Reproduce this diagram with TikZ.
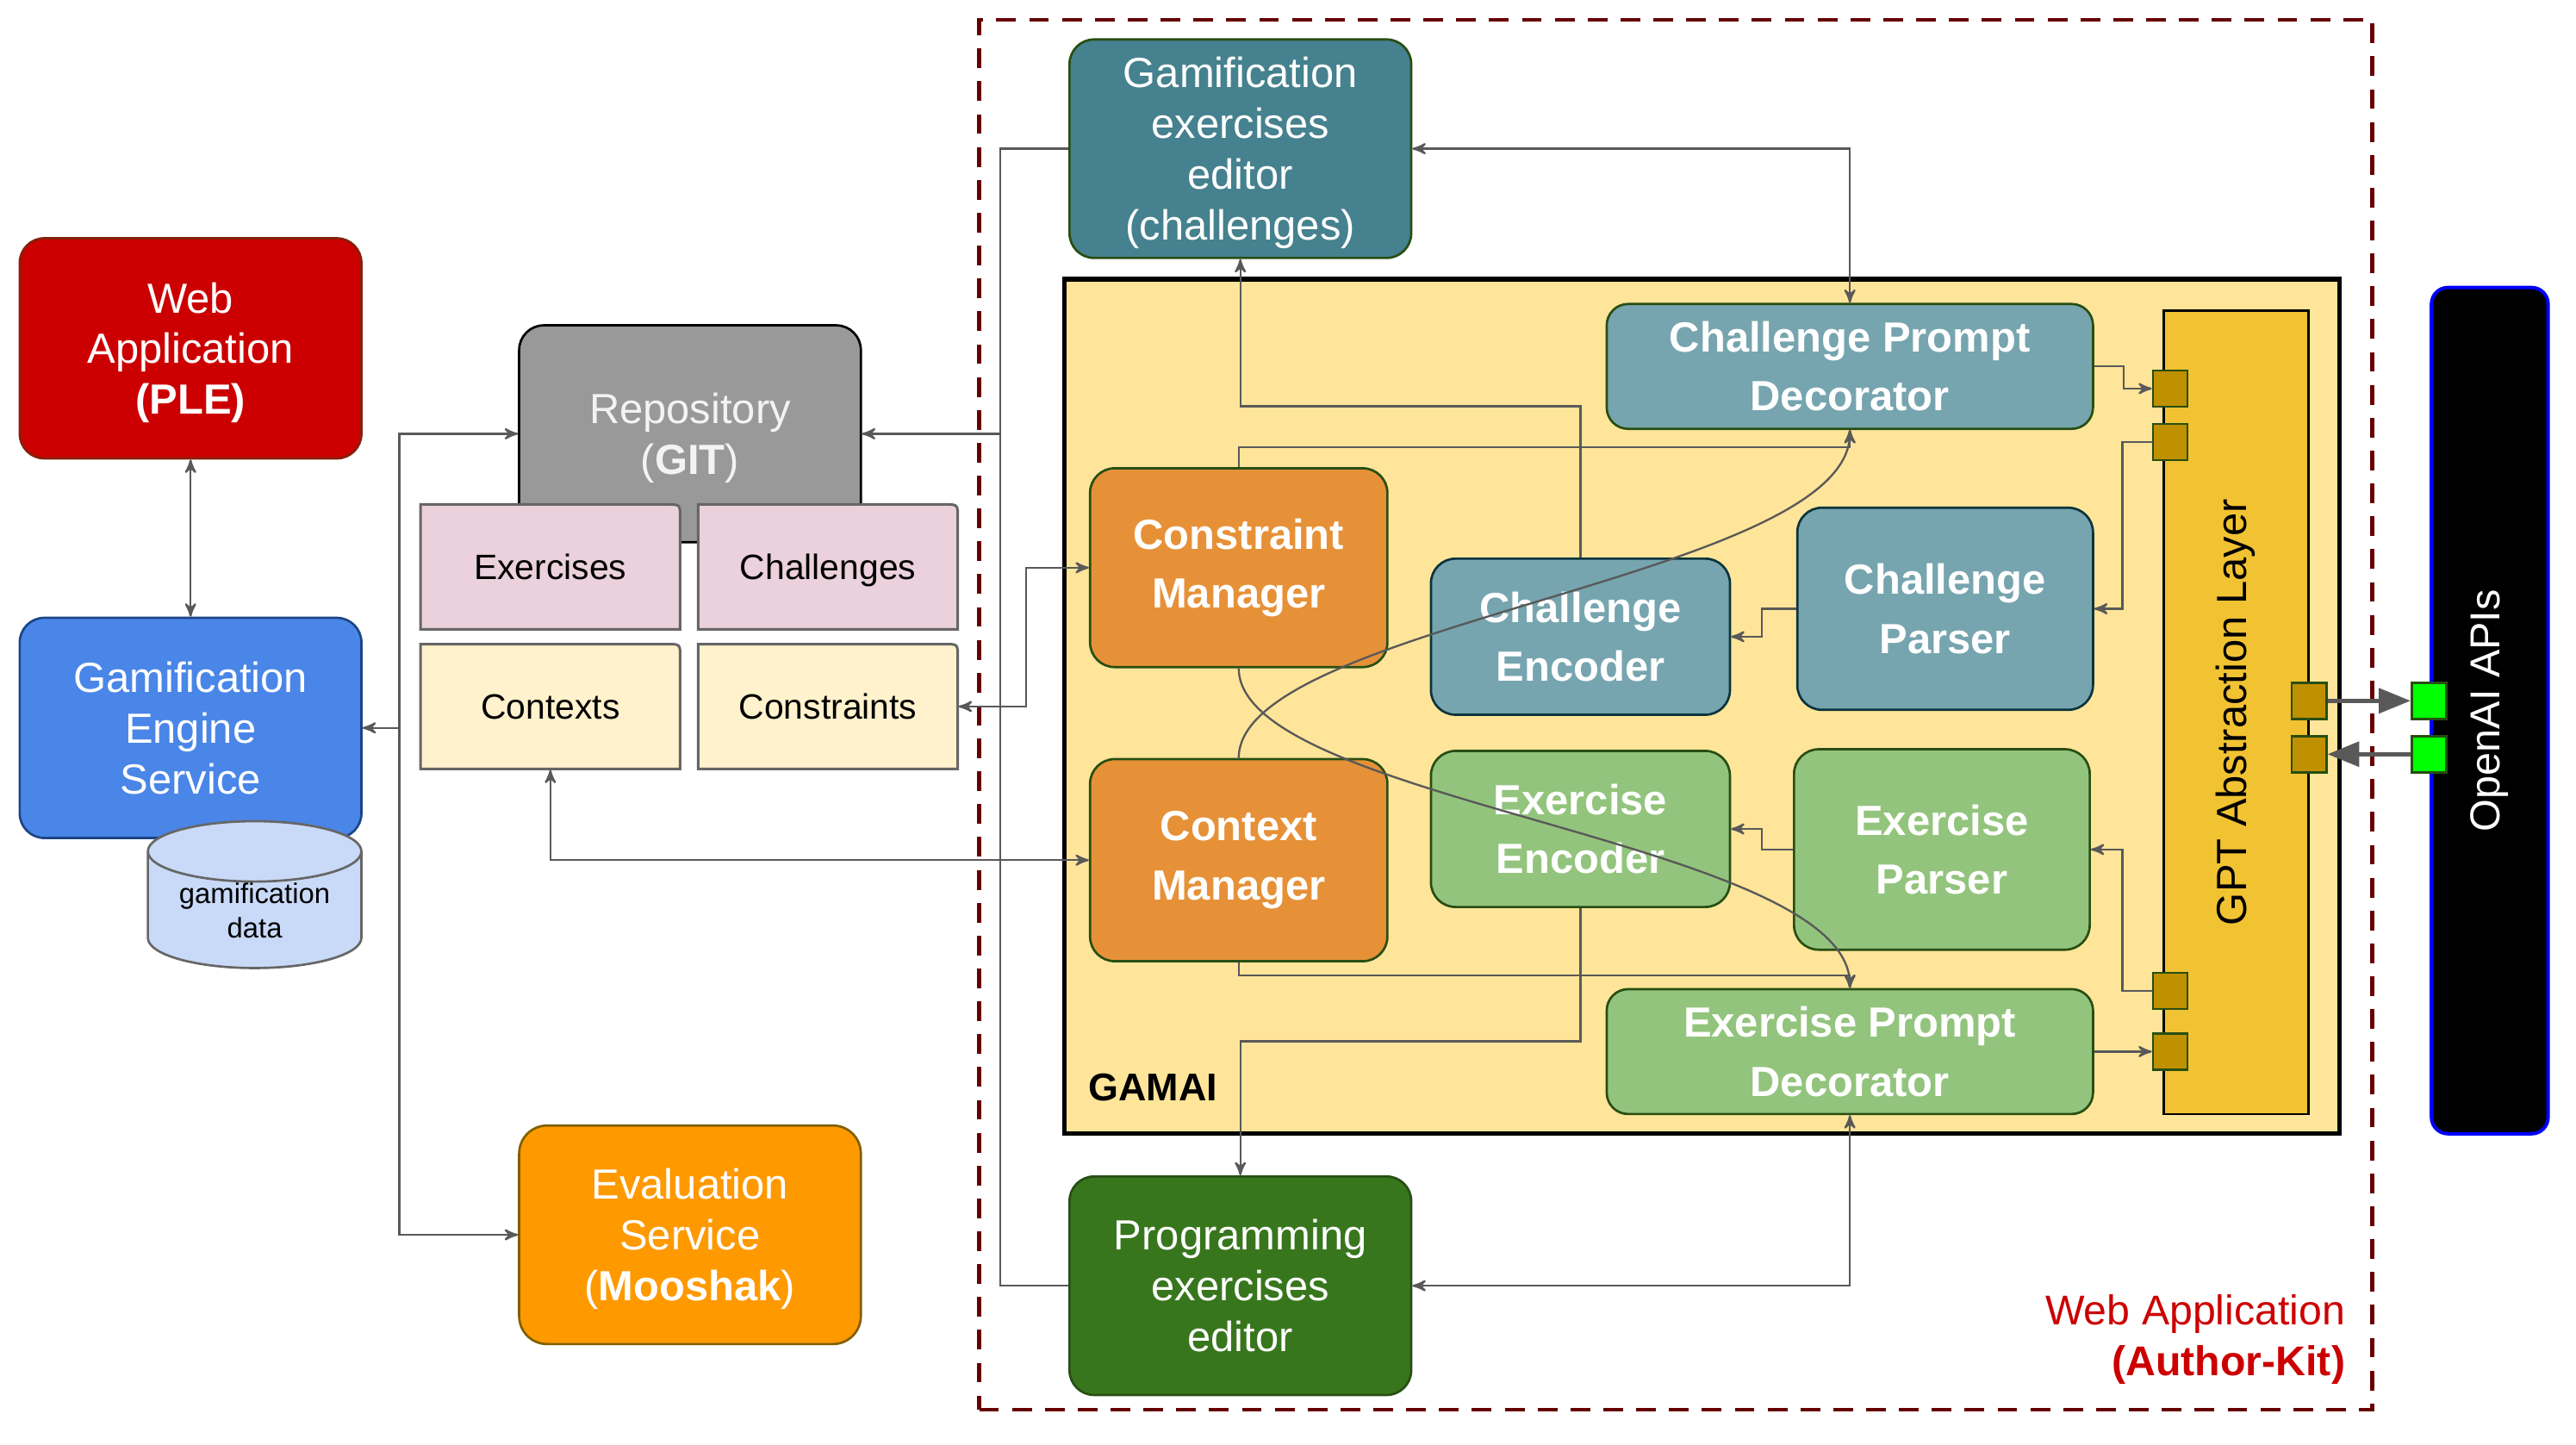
\documentclass[tikz,border=0pt]{standalone}
\usepackage{fontspec}
\setmainfont{Liberation Sans}
\usepackage{tikz}
\usetikzlibrary{arrows,arrows.meta,shapes.geometric}

\definecolor{linegray}{HTML}{595959}
\definecolor{pleRed}{HTML}{CC0000}
\definecolor{pleBorder}{HTML}{85200C}
\definecolor{engineBlue}{HTML}{4A86E8}
\definecolor{engineBorder}{HTML}{1C4587}
\definecolor{dataBlue}{HTML}{C9DAF8}
\definecolor{repoGray}{HTML}{999999}
\definecolor{repoText}{HTML}{F3F3F3}
\definecolor{tabPink}{HTML}{EAD1DC}
\definecolor{tabCream}{HTML}{FFF2CC}
\definecolor{tabBorder}{HTML}{666666}
\definecolor{evalOrange}{HTML}{FF9900}
\definecolor{evalBorder}{HTML}{7F6000}
\definecolor{editorTeal}{HTML}{45818E}
\definecolor{chalTeal}{HTML}{76A5AF}
\definecolor{chalBorder}{HTML}{0C343D}
\definecolor{exerGreen}{HTML}{93C47D}
\definecolor{mgrOrange}{HTML}{E69138}
\definecolor{progGreen}{HTML}{38761D}
\definecolor{darkGreen}{HTML}{274E13}
\definecolor{gamaiYellow}{HTML}{FFE599}
\definecolor{gptGold}{HTML}{F1C232}
\definecolor{portGold}{HTML}{BF9000}
\definecolor{apiGreen}{HTML}{00FF00}
\definecolor{frameRed}{HTML}{660000}
\definecolor{labelRed}{HTML}{CC0000}

\tikzset{dims/.style 2 args={minimum width=#1*0.02cm, minimum height=#2*0.02cm}}

\newcommand{\tabcard}[5]{%
  \filldraw[tab line, fill=#4] ({#2-79},{#3+38}) -- ({#2-79},{#3-38}) -- ({#2+71},{#3-38})
    .. controls ({#2+79},{#3-38}) .. ({#2+79},{#3-30}) -- ({#2+79},{#3+38}) -- cycle;
  \node[tab text, dims={158}{76}] (#1) at (#2,#3) {#5};}

\begin{document}
\begin{tikzpicture}[x=0.02cm,y=-0.02cm,>=stealth',semithick]
  \tikzstyle{box} = [rectangle, rounded corners=0.3cm, inner sep=0pt, align=center,
    text=white, line width=0.8pt, font=\fontsize{14.6}{17.6}\selectfont, text depth=-1.5pt]
  \tikzstyle{bold box} = [rectangle, rounded corners=0.3cm, inner sep=0pt, align=center,
    text=white, line width=0.8pt, font=\fontsize{14.6}{20.4}\selectfont\bfseries]
  \tikzstyle{tab line} = [draw=tabBorder, line width=0.9pt]
  \tikzstyle{tab text} = [inner sep=0pt, text height=8.6pt, text depth=0pt,
    font=\fontsize{12.2}{14}\selectfont]
  \tikzstyle{port} = [rectangle, draw=darkGreen, line width=0.8pt, inner sep=0pt, dims={21}{22}]
  \tikzstyle{link} = [draw=linegray, line width=0.7pt]
  \tikzstyle{api link} = [draw=linegray, line width=1.5pt, -{Triangle[length=11pt,width=8.5pt]}]
  \tikzstyle{frame} = [draw=frameRed, line width=1.3pt, dash pattern=on 0.24cm off 0.16cm]

  \path[use as bounding box] (0,0) rectangle (1568,879);

  \node[frame, inner sep=0pt, dims={848}{846}] (AuthorKit) at (1020,435) {};

  \node[box, dims={208}{134}, fill=pleRed, draw=pleBorder] (PLE) at (116,212)
       {Web\\Application\\\textbf{(PLE)}};
  \node[box, dims={208}{134}, fill=engineBlue, draw=engineBorder] (Engine) at (116,443)
       {Gamification\\Engine\\Service};
  \node[cylinder, shape border rotate=90, aspect=0.4, draw=tabBorder, line width=0.8pt,
        fill=dataBlue, minimum width=2.6cm, minimum height=1.76cm, inner sep=0pt,
        align=center, font=\fontsize{9.8}{11.9}\selectfont] (Data) at (155,554)
       {gamification\\data};

  \node[box, dims={208}{132}, fill=repoGray, draw=black, text=repoText] (Repo) at (420,264)
       {Repository\\(\textbf{GIT})};
  \tabcard{Exercises}{335}{345}{tabPink}{Exercises}
  \tabcard{Challenges}{504}{345}{tabPink}{Challenges}
  \tabcard{Contexts}{335}{430}{tabCream}{Contexts}
  \tabcard{Constraints}{504}{430}{tabCream}{Constraints}

  \node[box, rounded corners=0.34cm, dims={208}{133}, fill=evalOrange, draw=evalBorder]
       (Eval) at (420,751.5) {Evaluation\\Service\\(\textbf{Mooshak})};

  \node[box, dims={208}{133}, fill=editorTeal, draw=darkGreen] (GEditor) at (755,90.5)
       {Gamification\\exercises\\editor\\(challenges)};
  \node[box, dims={208}{133}, fill=progGreen, draw=darkGreen] (PEditor) at (755,782.5)
       {Programming\\exercises\\editor};

  \node[draw=black, line width=1.6pt, fill=gamaiYellow, inner sep=0pt, dims={776}{520}]
       (GAMAI) at (1036,430) {};
  \node[anchor=west, inner sep=0pt, font=\fontsize{13.4}{16}\selectfont\bfseries]
       (GamaiLabel) at (662,662) {GAMAI};

  \node[draw=black, line width=0.8pt, fill=gptGold, rotate=90, inner sep=0pt,
        dims={489}{88}, font=\fontsize{14.6}{17.6}\selectfont] (GPT) at (1361,433.5)
       {GPT Abstraction Layer};

  \node[bold box, rounded corners=0.26cm, dims={296}{76}, fill=chalTeal, draw=darkGreen]
       (ChalPrompt) at (1126,223) {Challenge Prompt\\Decorator};
  \node[bold box, dims={181}{121}, fill=mgrOrange, draw=darkGreen] (ConsMgr) at (754,345.5)
       {Constraint\\Manager};
  \node[bold box, dims={181}{123}, fill=mgrOrange, draw=darkGreen] (CtxMgr) at (754,523.5)
       {Context\\Manager};
  \node[bold box, dims={182}{95}, fill=chalTeal, draw=chalBorder] (ChalEnc) at (962,387.5)
       {Challenge\\Encoder};
  \node[bold box, dims={180}{123}, fill=chalTeal, draw=chalBorder] (ChalParse) at (1184,370.5)
       {Challenge\\Parser};
  \node[bold box, dims={182}{95}, fill=exerGreen, draw=darkGreen] (ExerEnc) at (962,504.5)
       {Exercise\\Encoder};
  \node[bold box, dims={180}{122}, fill=exerGreen, draw=darkGreen] (ExerParse) at (1182,517)
       {Exercise\\Parser};
  \node[bold box, rounded corners=0.26cm, dims={296}{76}, fill=exerGreen, draw=darkGreen]
       (ExerPrompt) at (1126,640) {Exercise Prompt\\Decorator};

  \node[port, fill=portGold] (P1) at (1321,236.5) {};
  \node[port, fill=portGold] (P2) at (1321,269) {};
  \node[port, fill=portGold] (P3) at (1321,603) {};
  \node[port, fill=portGold] (P4) at (1321,640) {};
  \node[port, fill=portGold] (Q1) at (1405.5,426.5) {};
  \node[port, fill=portGold] (Q2) at (1405.5,459) {};

  \node[draw=blue, line width=1.2pt, fill=black, rounded corners=0.2cm, rotate=90,
        inner sep=0pt, dims={515}{71}, text=white, font=\fontsize{14.5}{17.6}\selectfont]
       (OpenAI) at (1515.5,432.5) {OpenAI APIs};
  \node[port, fill=apiGreen] (G1) at (1478.5,426.5) {};
  \node[port, fill=apiGreen] (G2) at (1478.5,459) {};

  \node[anchor=east, align=right, inner sep=0pt, text=labelRed,
        font=\fontsize{14.4}{17.6}\selectfont] (AuthorKitLabel) at (1428,815)
       {Web Application\\\textbf{(Author-Kit)}};

  \coordinate (LeftBus) at (243,443);
  \coordinate (RightBus) at (609,264);

  \draw[link,<->] (PLE) -- (Engine);
  \draw[link,->] (LeftBus) -- (Engine.east);
  \draw[link,->] (LeftBus) |- (Repo.west);
  \draw[link,->] (LeftBus) |- (Eval.west);

  \draw[link,->] (RightBus) -- (Repo.east);
  \draw[link] (GEditor.west) -| (RightBus);
  \draw[link] (PEditor.west) -| (RightBus);

  \draw[link,<->] (Constraints.east) -- ++(41,0) |- (ConsMgr.west);
  \draw[link,<->] (Contexts.south) |- (CtxMgr.west);
  \draw[link,<->] (GEditor.east) -| (ChalPrompt.north);
  \draw[link,->] (ChalEnc.north) -- ++(0,-92) -| (GEditor.south);
  \draw[link,->] (ConsMgr.north) -- ++(0,-12) -| (ChalPrompt.south);
  \draw[link,->] (CtxMgr.north) .. controls +(0,-82) and +(0,90) .. (ChalPrompt.south);
  \draw[link,->] (ConsMgr.south) .. controls +(0,82) and +(0,-90) .. (ExerPrompt.north);
  \draw[link,->] (CtxMgr.south) -- ++(0,8) -| (ExerPrompt.north);
  \draw[link,->] (ExerEnc.south) -- ++(0,81) -| (PEditor.north);
  \draw[link,<->] (PEditor.east) -| (ExerPrompt.south);

  \draw[link,->] (ChalParse.west) -- ++(-21,0) |- (ChalEnc.east);
  \draw[link,->] (ExerParse.west) -- ++(-19,0) |- (ExerEnc.east);
  \draw[link,->] (ChalPrompt.east) -- ++(18,0) |- (P1.west);
  \draw[link,->] (P2.west) -- ++(-18,0) |- (ChalParse.east);
  \draw[link,->] (P3.west) -- ++(-18,0) |- (ExerParse.east);
  \draw[link,->] (ExerPrompt.east) -- (P4.west);

  \draw[api link] (Q1.east) -- (G1.west);
  \draw[api link] (G2.west) -- (Q2.east);
\end{tikzpicture}
\end{document}
